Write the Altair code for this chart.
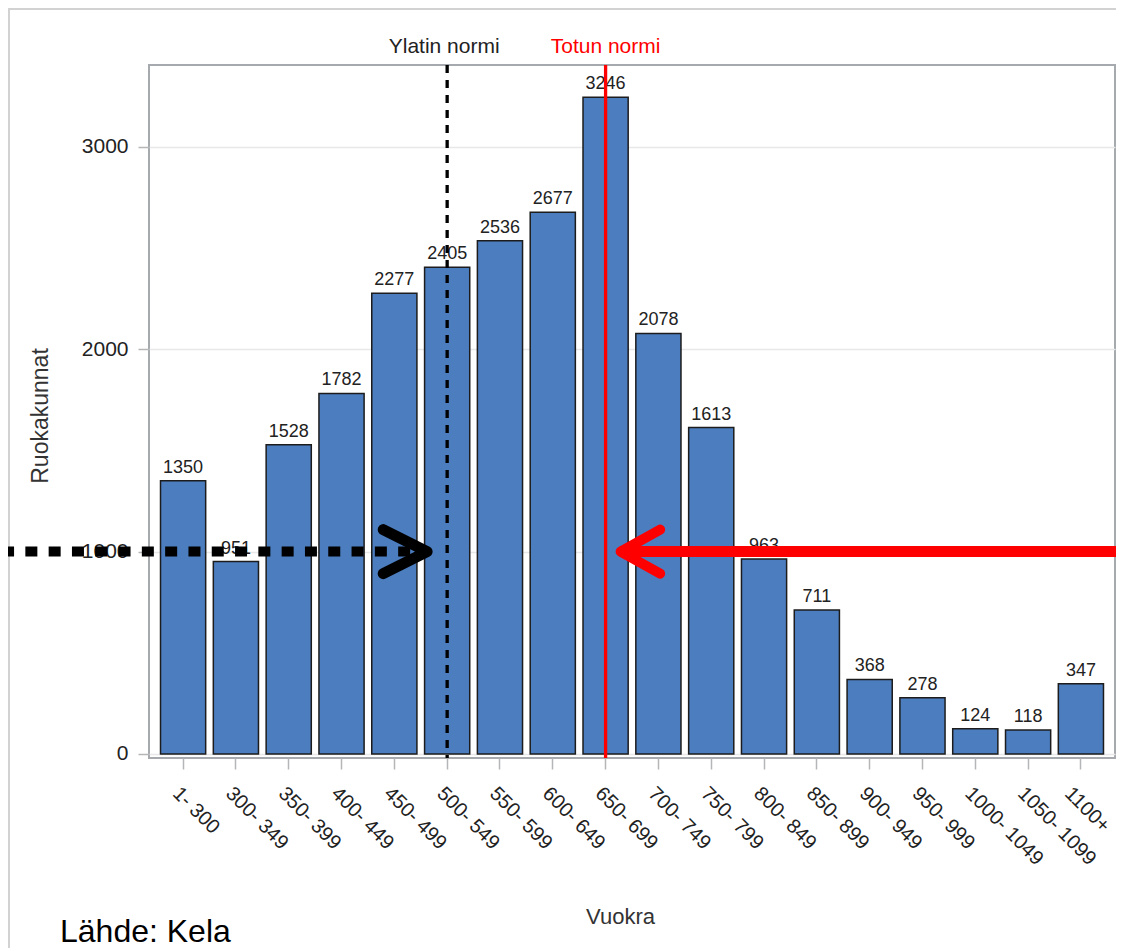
import altair as alt
import pandas as pd

# ---- data ----
categories = ["1- 300", "300- 349", "350- 399", "400- 449", "450- 499", "500- 549",
              "550- 599", "600- 649", "650- 699", "700- 749", "750- 799", "800- 849",
              "850- 899", "900- 949", "950- 999", "1000- 1049", "1050- 1099", "1100+"]
households = [1350, 951, 1528, 1782, 2277, 2405, 2536, 2677, 3246, 2078, 1613, 963,
              711, 368, 278, 124, 118, 347]

norm_cats = ["500- 549", "650- 699"]
norm_labels = ["Ylatin normi", "Totun normi"]
arrow_level = [1000]
y_ticks = [0, 1000, 2000, 3000]
source_text = "Lähde: Kela"

FONT = "Liberation Sans"
W, H = 966, 693

df = pd.DataFrame({"Vuokra": categories, "Ruokakunnat": households})
black_df = pd.DataFrame({"Vuokra": [norm_cats[0]], "label": [norm_labels[0]], "Ruokakunnat": arrow_level})
red_df = pd.DataFrame({"Vuokra": [norm_cats[1]], "label": [norm_labels[1]], "Ruokakunnat": arrow_level})
one = pd.DataFrame({"t": [source_text]})

xscale = alt.Scale(domain=categories, paddingInner=0.145, paddingOuter=0.218)
yscale = alt.Scale(domain=[-20, 3405], nice=False, zero=False)

last_cat = categories[-1]

x_axis = alt.Axis(
    title="Vuokra", titleFont=FONT, titleFontSize=22, titleFontWeight="normal",
    titleColor="#333333", titleX=471, titleY=165, titleAlign="center",
    titleBaseline="alphabetic",
    labelAngle=45, labelAlign="left", labelBaseline="middle", labelPadding=21,
    labelOffset={"condition": {"test": f"datum.label === '{last_cat}'", "value": -13}, "value": -7},
    labelFont=FONT, labelFontSize=20, labelColor="#222222",
    labelOverlap=False, labelBound=False, labelLimit=400,
    tickSize=11, tickColor="#b4b6b8", tickWidth=1.5, domain=False, grid=False,
)
y_axis = alt.Axis(
    title="Ruokakunnat", titleFont=FONT, titleFontSize=23, titleFontWeight="normal",
    titleColor="#333333", titleX=-109, titleY=H / 2 + 4, titleAngle=270,
    titleAlign="center", titleBaseline="middle",
    values=y_ticks, format="d", labelFont=FONT, labelFontSize=21, labelColor="#222222",
    labelPadding=10, tickSize=11, tickColor="#b4b6b8", tickWidth=1.5,
    domain=False, grid=True, gridColor="#e8e8e8", gridWidth=1.5,
)


def X():
    return alt.X("Vuokra:N", scale=xscale, axis=x_axis)


def Y():
    return alt.Y("Ruokakunnat:Q", scale=yscale, axis=y_axis)


frame = alt.Chart(one).mark_rect(fillOpacity=0, stroke="#d2d2d2", strokeWidth=2).encode(
    x=alt.value(-140), x2=alt.value(1100), y=alt.value(-56), y2=alt.value(1000)
)

bars = alt.Chart(df).mark_bar(fill="#4b7dbf", stroke="#1c1c1c", strokeWidth=1.5).encode(
    x=X(), y=Y(), y2=alt.datum(0),
)

bar_labels = alt.Chart(df).mark_text(
    font=FONT, fontSize=18, color="#222222", baseline="alphabetic", dy=-8
).encode(x=X(), y=Y(), text="Ruokakunnat:Q")

black_vline = alt.Chart(black_df).mark_rule(
    color="#000000", strokeWidth=3.3, strokeDash=[8, 7]
).encode(x=X())

red_vline = alt.Chart(red_df).mark_rule(color="#ff0000", strokeWidth=3.3).encode(x=X())

black_label = alt.Chart(black_df).mark_text(
    font=FONT, fontSize=21, color="#222222", baseline="alphabetic", dx=-3
).encode(x=X(), y=alt.value(-12), text="label:N")

red_label = alt.Chart(red_df).mark_text(
    font=FONT, fontSize=21, color="#ff0000", baseline="alphabetic"
).encode(x=X(), y=alt.value(-12), text="label:N")

black_arrow_line = alt.Chart(black_df).mark_rule(
    color="#000000", strokeWidth=10, strokeDash=[12, 11.3], xOffset=-37
).encode(x=X(), x2=alt.value(-141), y=Y())

black_arrow_head = alt.Chart(black_df).mark_point(
    shape="M-2,-1L0,0L-2,1", size=1936, filled=False, stroke="#000000",
    strokeWidth=11, strokeCap="round", strokeJoin="round", opacity=1, xOffset=-20
).encode(x=X(), y=Y())

red_arrow_line = alt.Chart(red_df).mark_rule(
    color="#ff0000", strokeWidth=11, xOffset=14
).encode(x=X(), x2=alt.value(1000), y=Y())

red_arrow_head = alt.Chart(red_df).mark_point(
    shape="M1.8,-1L0,0L1.8,1", size=1936, filled=False, stroke="#ff0000",
    strokeWidth=10, strokeCap="round", strokeJoin="round", opacity=1, xOffset=15
).encode(x=X(), y=Y())

source = alt.Chart(one).mark_text(
    font=FONT, fontSize=32, color="#000000", align="left", baseline="alphabetic"
).encode(x=alt.value(-89), y=alt.value(877), text="t:N")

chart = alt.layer(
    bars, frame, bar_labels, black_vline, red_vline, black_label, red_label,
    black_arrow_line, black_arrow_head, red_arrow_line, red_arrow_head, source,
).properties(
    width=W, height=H, autosize="none",
    padding={"left": 141, "top": 57, "right": 1, "bottom": 190},
).configure(font=FONT).configure_view(stroke="#a6a9ad", strokeWidth=2)

chart.save("out.html", embed_options={"renderer": "svg", "actions": False})
